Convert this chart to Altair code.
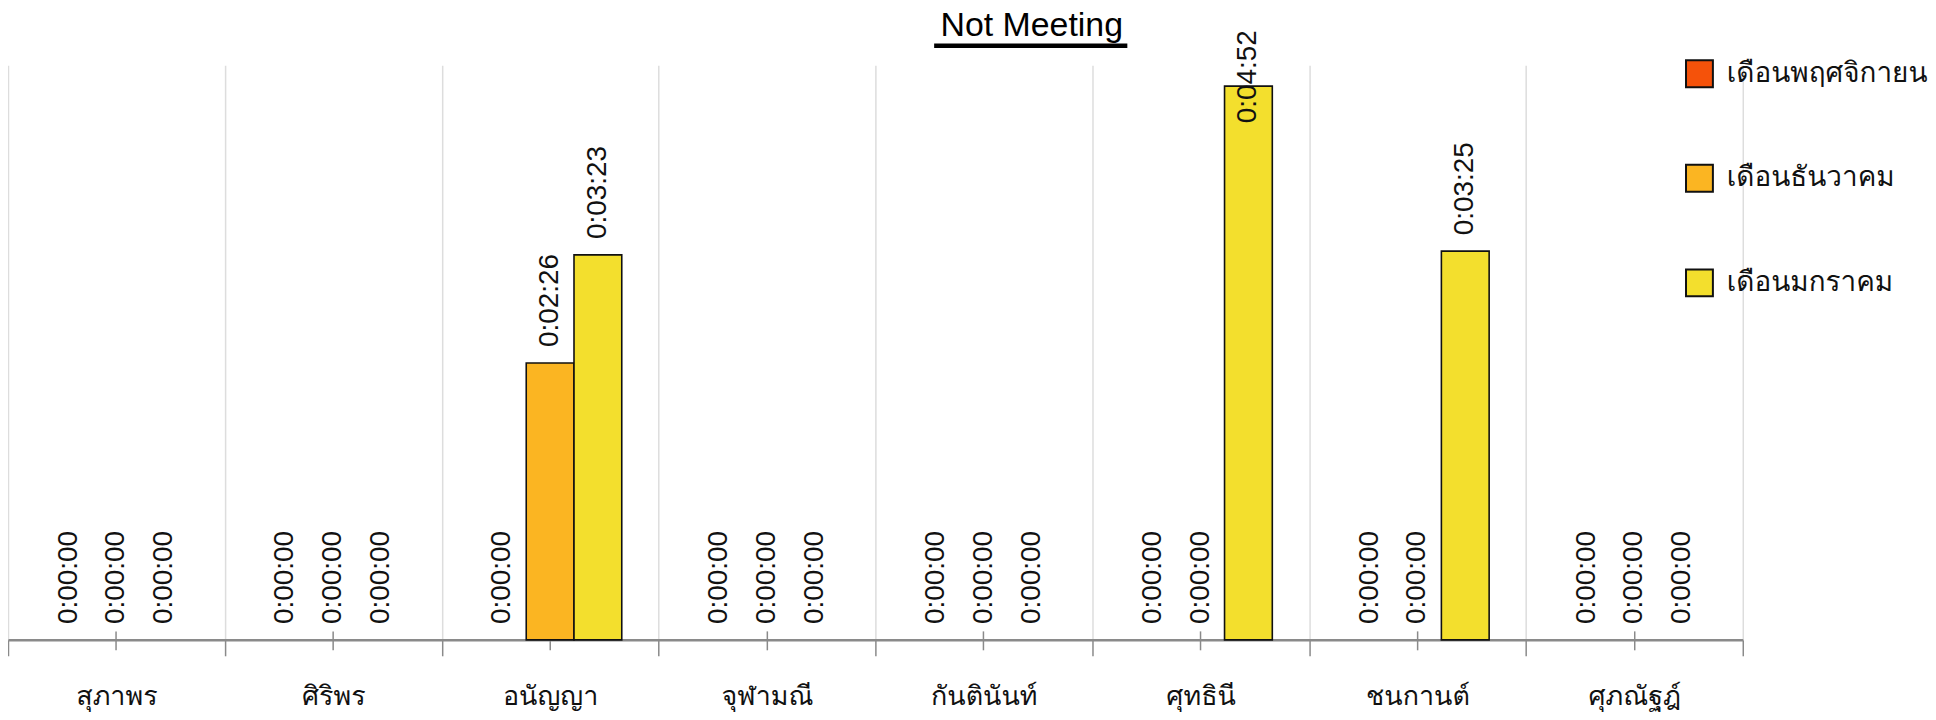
import altair as alt
import pandas as pd

names = ["สุภาพร", "ศิริพร", "อนัญญา", "จุฬามณี", "กันตินันท์", "ศุทธินี", "ชนกานต์", "ศุภณัฐฎ์"]
months = ["เดือนพฤศจิกายน", "เดือนธันวาคม", "เดือนมกราคม"]
# seconds of "not meeting" time per person, per month
nov_sec = [0, 0, 0, 0, 0, 0, 0, 0]
dec_sec = [0, 0, 146, 0, 0, 0, 0, 0]
jan_sec = [0, 0, 203, 0, 0, 292, 205, 0]
colors = ["#F5520A", "#FBB522", "#F3DF2D"]


def fmt(s):
    return f"{s // 3600}:{(s % 3600) // 60:02d}:{s % 60:02d}"


rows = []
for m, vals in zip(months, [nov_sec, dec_sec, jan_sec]):
    for n, v in zip(names, vals):
        rows.append({"name": n, "month": m, "sec": v, "label": fmt(v)})
df = pd.DataFrame(rows)

THAI = "Loma, Garuda, Tlwg Typist, Noto Sans Thai, Noto Sans, sans-serif"

xo = alt.XOffset("month:N", sort=months,
                 scale=alt.Scale(paddingOuter=0.77, paddingInner=0))
y_scale = alt.Scale(domain=[0, 303], nice=False, zero=True)

base = alt.Chart(df)

bars = base.transform_filter("datum.sec > 0").mark_bar(stroke="#111111", strokeWidth=1.6).encode(
    x=alt.X("name:N", sort=names, title=None,
            scale=alt.Scale(domain=names, paddingInner=0, paddingOuter=0),
            axis=alt.Axis(orient="bottom", tickBand="extent", grid=True, gridColor="#dddddd", gridWidth=1.5,
                          domainColor="#8a8a8a", domainWidth=2.5,
                          tickColor="#8a8a8a", tickWidth=1.5, tickSize=16,
                          labelAngle=0, labelFont=THAI, labelFontSize=27,
                          labelColor="#111111", labelPadding=28)),
    xOffset=xo,
    y=alt.Y("sec:Q", scale=y_scale, axis=None),
    color=alt.Color("month:N", sort=months,
                    scale=alt.Scale(domain=months, range=colors),
                    legend=alt.Legend(title=None, orient="none", legendX=1684, legendY=-6,
                                      symbolType="square", symbolSize=729,
                                      symbolStrokeColor="#111111", symbolStrokeWidth=2,
                                      symbolOpacity=1,
                                      labelFont=THAI, labelFontSize=28, labelColor="#111111",
                                      labelLimit=400, rowPadding=70, labelOffset=13)),
)

labels = base.transform_calculate(
    pos="min(datum.sec, 264)"
).mark_text(angle=270, align="left", baseline="middle", dx=16,
            font="Liberation Sans", fontSize=28, color="#111111").encode(
    x=alt.X("name:N", sort=names, title=None,
            scale=alt.Scale(domain=names, paddingInner=0, paddingOuter=0),
            axis=alt.Axis(orient="bottom", tickBand="center", grid=False, domain=False, labels=False,
                          tickColor="#8a8a8a", tickWidth=1.5, tickSize=19, offset=-9)),
    xOffset=xo,
    y=alt.Y("pos:Q", scale=y_scale, axis=None),
    text="label:N",
)

underline = alt.Chart(pd.DataFrame({"k": [0]})).mark_rule(
    color="#000000", strokeWidth=4.5).encode(
    x=alt.value(930), x2=alt.value(1124), y=alt.value(-19.5)
)

chart = alt.layer(bars, labels, underline).resolve_axis(x="independent").properties(
    width=1742, height=577,
    title=alt.TitleParams("Not Meeting", font="Liberation Sans", fontSize=34,
                          fontWeight="normal", color="#000000",
                          anchor="middle", dx=157, offset=-13),
    autosize=alt.AutoSizeParams(type="none"),
    padding={"left": 0, "top": 56, "right": 186, "bottom": 79},
).configure_view(stroke=None)

chart.save("out.html", embed_options={"renderer": "svg", "actions": False})
